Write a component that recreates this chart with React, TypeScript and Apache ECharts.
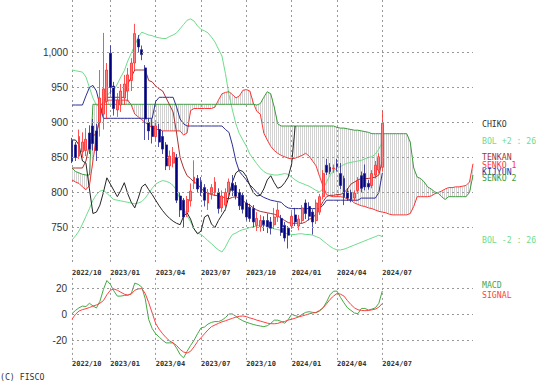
import React, { useEffect, useRef } from "react";
import * as echarts from "echarts";

// ---- data (weekly) ----
const START_WEEK = "2022-10-17";
const AHEAD_WEEKS = 26;
const QUARTER_MONTHS = [1, 4, 7, 10];
const PRICE_TICKS = [750, 800, 850, 900, 950, 1000];
const MACD_TICKS = [-20, 0, 20];

// [open, close, low, high]
const CANDLES: number[][] = [
  [874, 845, 842, 878], [868, 850, 845, 872], [852, 880, 848, 890], [858, 872, 850, 886], [860, 876, 852, 892],
  [885, 862, 855, 896], [895, 870, 860, 905], [888, 860, 845, 898], [900, 935, 880, 975], [912, 948, 890, 1028],
  [930, 975, 905, 985], [999, 950, 940, 1010], [952, 920, 910, 958], [918, 932, 908, 942], [925, 945, 915, 955],
  [935, 955, 925, 968], [945, 968, 930, 978], [960, 985, 945, 992], [985, 1027, 975, 1041], [1019, 1008, 1000, 1025],
  [1004, 997, 989, 1010], [978, 905, 875, 982], [900, 888, 875, 906], [895, 880, 870, 905], [880, 895, 874, 900],
  [890, 872, 865, 898], [880, 862, 855, 888], [868, 838, 832, 872], [838, 852, 832, 860], [842, 857, 836, 865],
  [850, 789, 785, 855], [795, 775, 765, 800], [789, 765, 750, 792], [772, 790, 765, 795], [788, 802, 780, 813],
  [813, 822, 805, 846], [820, 805, 800, 825], [815, 800, 795, 822], [807, 789, 780, 812], [785, 800, 775, 805],
  [798, 807, 790, 812], [800, 815, 795, 822], [800, 777, 770, 806], [778, 795, 772, 803], [782, 800, 774, 806],
  [800, 815, 795, 820], [813, 803, 795, 825], [810, 795, 790, 815], [800, 781, 775, 805], [796, 776, 770, 800],
  [785, 765, 760, 790], [779, 763, 758, 784], [777, 758, 750, 782], [753, 763, 745, 772], [751, 760, 744, 768],
  [760, 754, 745, 766], [760, 751, 742, 770], [758, 749, 740, 765], [754, 765, 748, 778], [765, 775, 758, 786],
  [763, 743, 738, 768], [753, 735, 730, 758], [749, 739, 720, 752], [752, 766, 748, 772], [768, 758, 752, 778],
  [752, 762, 746, 768], [760, 778, 755, 782], [785, 770, 762, 790], [780, 766, 760, 786], [772, 758, 740, 776],
  [760, 785, 755, 790], [772, 794, 768, 798], [794, 827, 790, 832], [839, 829, 825, 848], [836, 830, 826, 842],
  [834, 835, 828, 840], [841, 837, 830, 848], [827, 810, 805, 842], [820, 794, 782, 824], [801, 792, 788, 806],
  [800, 790, 786, 804], [792, 799, 788, 803], [803, 817, 798, 822], [824, 806, 800, 830], [827, 808, 803, 840],
  [813, 808, 804, 818], [810, 827, 806, 832], [825, 839, 820, 845], [832, 851, 828, 856], [836, 899, 830, 917],
];

const TENKAN = [
  835, 835, 835, 835, 845, 870, 880, 885, 905, 930,
  936, 936, 936, 936, 936, 936, 955, 965, 975, 975,
  975, 975, 960, 958, 952, 948, 945, 935, 925, 915,
  885, 850, 835, 824, 820, 815, 812, 806, 801, 799,
  797, 796, 795, 794, 792, 791, 793, 794, 792, 789,
  784, 782, 778, 775, 773, 772, 771, 770, 769, 767,
  763, 760, 757, 756, 756, 756, 756, 758, 762, 763,
  770, 778, 787, 794, 796, 796, 797, 797, 800, 805,
  812, 815, 818, 820, 820, 820, 821, 822, 825, 846,
];

const KIJUN = [
  925, 925, 925, 925, 938, 950, 953, 945, 925, 906,
  906, 906, 906, 906, 906, 906, 906, 906, 906, 906,
  906, 906, 906, 906, 930, 936, 936, 936, 936, 936,
  922, 905, 898, 895, 895, 895, 895, 895, 895, 895,
  895, 895, 895, 895, 890, 886, 868, 845, 830, 824,
  818, 811, 806, 800, 796, 793, 791, 789, 788, 787,
  786, 781, 778, 777, 777, 777, 777, 777, 777, 777,
  777, 777, 782, 789, 789, 789, 789, 789, 789, 789,
  789, 789, 789, 792, 792, 792, 792, 792, 800, 828,
];

const SENKO1 = [
  818, 815, 813, 808, 804, 810, 845, 880, 910, 925,
  932, 932, 932, 932, 932, 932, 932, 925, 912, 908,
  904, 900, 896, 893, 890, 890, 888, 888, 888, 888,
  888, 888, 882, 885, 917, 920, 920, 920, 920, 920,
  920, 922, 932, 941, 943, 944, 940, 935, 938, 946,
  947, 945, 928, 916, 912, 885, 875, 866, 860, 856,
  853, 851, 849, 848, 849, 851, 853, 856, 852, 845,
  838, 823, 809, 797, 795, 794, 794, 794, 793, 791,
  789, 785, 783, 781, 780, 778, 777, 775, 773, 772,
  771, 769, 768, 768, 768, 768, 768, 770, 780, 794,
  794, 794, 794, 795, 798, 800, 802, 805, 807, 807,
  808, 808, 809, 810, 815, 841,
];

const SENKO2 = [
  835, 830, 828, 826, 825, 825, 926, 926, 926, 926,
  926, 926, 926, 926, 926, 926, 926, 926, 926, 926,
  926, 926, 926, 926, 926, 926, 926, 926, 926, 926,
  926, 926, 926, 926, 926, 926, 926, 926, 926, 926,
  926, 926, 926, 926, 926, 926, 926, 926, 926, 926,
  926, 926, 926, 925, 927, 936, 944, 941, 922, 898,
  895, 895, 895, 895, 895, 895, 895, 895, 895, 895,
  895, 895, 895, 895, 895, 895, 893, 892, 892, 891,
  890, 889, 889, 888, 887, 886, 884, 884, 884, 884,
  884, 884, 884, 884, 884, 884, 884, 872, 835, 822,
  820, 815, 808, 805, 801, 799, 794, 790, 794, 794,
  794, 794, 794, 794, 800, 825,
];

const CHIKO = [
  875, 875, 868, 845, 842, 805, 770, 772, 782, 800,
  821, 812, 803, 794, 803, 814, 798, 786, 778, 792,
  808, 812, 804, 797, 789, 781, 774, 768, 763, 759,
  756, 754, 766, 771, 762, 748, 741, 745, 765, 768,
  755, 750, 760, 768, 776, 795, 815, 828, 832, 830,
  823, 810, 800, 795, 796, 805, 818, 824, 814, 806,
  808, 814, 822, 841, 895,
];

const BOL_UP = [
  975, 974, 973, 972, 965, 950, 935, 925, 922, 930,
  938, 944, 946, 955, 965, 974, 988, 999, 1010, 1022,
  1029, 1027, 1025, 1024, 1022, 1021, 1020, 1020, 1023, 1025,
  1028, 1034, 1040, 1046, 1048, 1045, 1038, 1033, 1031, 1028,
  1022, 1015, 1005, 995, 970, 940, 918, 898, 884, 875,
  866, 855, 848, 841, 835, 830, 827, 826, 825, 825,
  826, 827, 826, 822, 818, 815, 813, 811, 809, 806,
  803, 801, 805, 815, 825, 831, 835, 837, 840, 842,
  843, 844, 845, 846, 848, 850, 851, 855, 862, 872,
];

const BOL_DN = [
  732, 738, 745, 755, 766, 777, 789, 797, 802, 803,
  799, 794, 790, 789, 788, 787, 786, 785, 784, 785,
  787, 792, 799, 806, 812, 815, 817, 816, 814, 810,
  803, 790, 778, 767, 758, 748, 742, 740, 736, 731,
  727, 722, 718, 715, 722, 732, 740, 742, 745, 747,
  748, 750, 751, 752, 753, 753, 752, 750, 748, 747,
  746, 742, 741, 740, 740, 741, 741, 740, 740, 739,
  737, 735, 731, 727, 723, 720, 718, 718, 719, 721,
  723, 725, 727, 729, 731, 733, 735, 737, 739, 737,
];

const MACD = [
  0.5, 3, 5, 6.3, 6, 8.5, 6.5, 4.8, 10, 19,
  26, 23, 18, 14, 14, 14.5, 14.7, 16, 24, 23,
  21, 12, -4, -11, -15, -17.5, -20, -22, -22, -22,
  -26, -31, -33.5, -28.5, -24, -20, -15, -10.5, -9.8, -7.5,
  -6.2, -5.6, -5.6, -4.5, -2.5, 0.2, 0.3, -1.5, -3.5, -5,
  -6.1, -7, -7.8, -8.5, -9, -9.5, -8.8, -7, -4.5, -4.5,
  -5.5, -6.9, -4, 0, -1, -1.8, 0, 1.5, 2, 1.5,
  1.2, 2.5, 5, 9.5, 15, 17.8, 17.8, 13, 8.8, 5,
  3, 1, 0.5, 4.5, 4.5, 3.3, 4, 5, 8.5, 18,
];

const SIGNAL = [
  -3.8, 0, 2.5, 3.6, 4.3, 5.2, 6.3, 7.2, 8.5, 10.5,
  15, 18.5, 19.5, 18.5, 17, 15.5, 14.8, 15.5, 18.5, 19.5,
  19.8, 16, 9, 1, -7, -11.5, -15, -18, -20.5, -22,
  -24, -27, -29, -29.8, -28.5, -25, -21, -18, -15, -12,
  -9.5, -8.2, -7, -5.8, -5, -4, -3.1, -2.2, -1.5, -1.3,
  -1.8, -2.8, -3.5, -4.5, -5.2, -6, -6.8, -7.2, -7.3, -7,
  -6, -5.5, -4.5, -3.8, -3, -2, -1.3, -0.5, 0.3, 1,
  1.5, 3, 5, 8, 11.5, 14, 16, 15.5, 14, 10.5,
  7.5, 5, 3.5, 3, 2.8, 2.9, 3.4, 4, 5.5, 8.4,
];

// ---- helpers ----
const N_DATA = CANDLES.length;
const pad2 = (n: number) => String(n).padStart(2, "0");
function buildWeeks(start: string, count: number): string[] {
  const t0 = Date.parse(start + "T00:00:00Z");
  const out: string[] = [];
  for (let i = 0; i < count; i++) {
    const d = new Date(t0 + i * 7 * 86400000);
    out.push(`${d.getUTCFullYear()}/${pad2(d.getUTCMonth() + 1)}/${pad2(d.getUTCDate())}`);
  }
  return out;
}
const WEEKS = buildWeeks(START_WEEK, N_DATA + AHEAD_WEEKS);
const monthOf = (s: string) => Number(s.slice(5, 7));
const isQuarterStart = (i: number) => {
  if (i >= N_DATA) return false;
  const m = monthOf(WEEKS[i]);
  if (!QUARTER_MONTHS.includes(m)) return false;
  return i === 0 || monthOf(WEEKS[i - 1]) !== m;
};

const HATCH = SENKO1.map((v, i) => [
  i,
  v,
  SENKO2[i],
  i + 1 < SENKO1.length ? SENKO1[i + 1] : v,
  i + 1 < SENKO2.length ? SENKO2[i + 1] : SENKO2[i],
]);

const MONO = "'DejaVu Sans Mono', 'Liberation Mono', monospace";
const SANS = "'Liberation Sans', Arial, sans-serif";
const GRID_LINE = { type: [2, 3] as any, color: "#999999", width: 1 };

const C_BOL = "#6fdc8c";
const C_TENKAN = "#a83232";
const C_KIJUN = "#2e2e96";
const C_SENKO1 = "#ff3333";
const C_SENKO2 = "#3c9c3c";
const C_CHIKO = "#262626";
const C_MACD = "#44aa44";
const C_SIGNAL = "#ff4040";

function xAxis(gridIndex: number, margin: number) {
  return {
    type: "category",
    gridIndex,
    data: WEEKS,
    boundaryGap: false,
    axisLine: { show: false },
    axisTick: { show: false },
    axisLabel: {
      interval: (i: number) => isQuarterStart(i),
      formatter: (v: string, i: number) => (isQuarterStart(i) ? v.slice(0, 7) : ""),
      align: "left",
      margin,
      fontSize: 7,
      fontWeight: "bold",
      fontFamily: MONO,
      color: "#333",
    },
    splitLine: { show: true, interval: (i: number) => isQuarterStart(i), lineStyle: GRID_LINE },
  };
}

function line(data: number[], color: string, z = 3, xi = 0) {
  return {
    type: "line",
    xAxisIndex: xi,
    yAxisIndex: xi,
    data,
    symbol: "none",
    showSymbol: false,
    silent: true,
    z,
    lineStyle: { color, width: 1 },
    itemStyle: { color },
  };
}

function hatchRender(params: any, api: any) {
  const i = api.value(0);
  const last = i >= SENKO1.length - 1;
  const a0 = api.coord([i, api.value(1)]);
  const b0 = api.coord([i, api.value(2)]);
  const a1 = last ? a0 : api.coord([i + 1, api.value(3)]);
  const b1 = last ? b0 : api.coord([i + 1, api.value(4)]);
  const xs = a0[0];
  const xe = last ? a0[0] + 0.9 : a1[0];
  const children: any[] = [];
  for (let px = Math.ceil(xs / 2) * 2; px < xe; px += 2) {
    const t = xe - xs > 1 && !last ? (px - xs) / (xe - xs) : 0;
    const ya = a0[1] + (a1[1] - a0[1]) * t;
    const yb = b0[1] + (b1[1] - b0[1]) * t;
    children.push({
      type: "line",
      shape: { x1: px + 0.5, y1: ya, x2: px + 0.5, y2: yb },
      style: { stroke: "#d2d2d2", lineWidth: 1 },
    });
  }
  return { type: "group", children };
}

function label(text: string, x: number, y: number, fill: string) {
  return {
    type: "text",
    x,
    y,
    silent: true,
    style: { text, fill, fontSize: 8.2, fontFamily: MONO, verticalAlign: "middle", align: "left" },
  };
}

function buildOption() {
  return {
    animation: false,
    backgroundColor: "#ffffff",
    grid: [
      { left: 72, right: 79, top: 0, height: 262.5 },
      { left: 72, right: 79, top: 277.9, height: 81.9 },
    ],
    xAxis: [xAxis(0, 7), xAxis(1, 1)],
    yAxis: [
      {
        type: "value",
        gridIndex: 0,
        min: 700,
        max: 1075,
        interval: 50,
        axisLine: { show: false },
        axisTick: { show: false },
        splitLine: { show: false },
        axisLabel: {
          showMinLabel: false,
          showMaxLabel: false,
          formatter: (v: number) => (PRICE_TICKS.includes(v) ? v.toLocaleString("en-US") : ""),
          fontSize: 10,
          fontFamily: SANS,
          color: "#333",
          margin: 4,
        },
      },
      {
        type: "value",
        gridIndex: 1,
        min: -35,
        max: 28,
        splitNumber: 3,
        axisLine: { show: false },
        axisTick: { show: false },
        splitLine: { show: false },
        axisLabel: {
          showMinLabel: false,
          showMaxLabel: false,
          formatter: (v: number) => (MACD_TICKS.includes(v) ? String(v) : ""),
          fontSize: 10,
          fontFamily: SANS,
          color: "#333",
          margin: 5,
        },
      },
    ],
    series: [
      {
        type: "custom",
        xAxisIndex: 0,
        yAxisIndex: 0,
        data: HATCH,
        encode: { x: 0, y: [1, 2] },
        renderItem: hatchRender,
        silent: true,
        z: 1,
      },
      {
        ...line(BOL_UP, C_BOL, 2),
        markLine: {
          silent: true,
          symbol: ["none", "none"],
          label: { show: false },
          lineStyle: GRID_LINE,
          emphasis: { disabled: true },
          data: PRICE_TICKS.map((v) => ({ yAxis: v })),
        },
      },
      line(BOL_DN, C_BOL, 2),
      line(SENKO1, C_SENKO1, 3),
      line(SENKO2, C_SENKO2, 3),
      line(KIJUN, C_KIJUN, 3),
      line(TENKAN, C_TENKAN, 3),
      line(CHIKO, C_CHIKO, 3),
      {
        type: "candlestick",
        xAxisIndex: 0,
        yAxisIndex: 0,
        data: CANDLES,
        barWidth: 2.4,
        clip: false,
        silent: true,
        z: 4,
        itemStyle: {
          color: "#ff8080",
          color0: "#000080",
          borderColor: "#ff2828",
          borderColor0: "#22228e",
          borderWidth: 0.8,
        },
      },
      {
        ...line(MACD, C_MACD, 3, 1),
        markLine: {
          silent: true,
          symbol: ["none", "none"],
          label: { show: false },
          lineStyle: GRID_LINE,
          emphasis: { disabled: true },
          data: MACD_TICKS.map((v) => ({ yAxis: v })),
        },
      },
      line(SIGNAL, C_SIGNAL, 3, 1),
    ],
    graphic: [
      label("CHIKO", 482, 124.3, "#333333"),
      label("BOL +2 : 26", 482, 141, C_BOL),
      label("TENKAN", 482, 157, C_TENKAN),
      label("SENKO 1", 482, 165.3, C_SENKO1),
      label("KIJYUN", 482, 171.7, C_KIJUN),
      label("SENKO 2", 482, 177.7, C_SENKO2),
      label("BOL -2 : 26", 482, 240, C_BOL),
      label("MACD", 482, 285, C_MACD),
      label("SIGNAL", 482, 295.3, C_SIGNAL),
      label("(C) FISCO", 0, 377, "#333333"),
    ],
  };
}

export default function App() {
  const ref = useRef<HTMLDivElement>(null);
  useEffect(() => {
    if (!ref.current) return;
    const chart = echarts.init(ref.current, undefined, { renderer: "svg" });
    chart.setOption(buildOption() as any);
    return () => chart.dispose();
  }, []);
  return (
    <div
      ref={ref}
      style={{ position: "absolute", left: 0, top: 0, width: 552, height: 389, background: "#fff" }}
    />
  );
}
